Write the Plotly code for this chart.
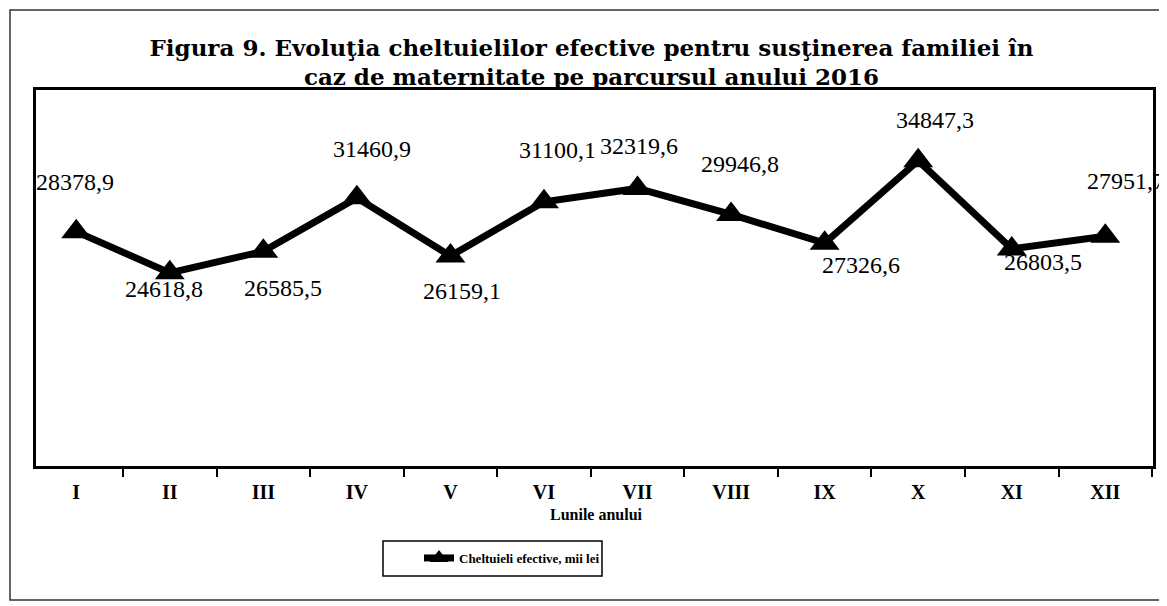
import plotly.graph_objects as go

months = ["I", "II", "III", "IV", "V", "VI", "VII", "VIII", "IX", "X", "XI", "XII"]
values = [28378.9, 24618.8, 26585.5, 31460.9, 26159.1, 31100.1, 32319.6, 29946.8, 27326.6, 34847.3, 26803.5, 27951.7]
value_labels = ["28378,9", "24618,8", "26585,5", "31460,9", "26159,1", "31100,1",
                "32319,6", "29946,8", "27326,6", "34847,3", "26803,5", "27951,7"]
# label offsets (pixels) relative to each point (dy > 0 means below)
label_dx = [-1, -6, 20, 15, 12, 14, 1, 9, 36, 17, 31, 21]
label_dy = [-50, 16, 37, -49, 35, -52, -42, -50, 22, -41, 13, -55]

title_text = ("<b>Figura 9. Evoluţia cheltuielilor efective pentru susţinerea familiei în<br>"
              "caz de maternitate pe parcursul anului 2016</b>")
series_name = "<b>Cheltuieli efective, mii lei</b>"
x_title = "Lunile anului"

W, H = 1167, 606
L, R, T, B = 28, 1145, 82, 458

fig = go.Figure()
fig.add_trace(go.Scatter(
    x=months, y=values, mode="lines+markers", name=series_name,
    line=dict(color="black", width=7),
    marker=dict(symbol="triangle-up", size=26, color="black"),
    showlegend=True,
))

for m, v, t, dx, dy in zip(months, values, value_labels, label_dx, label_dy):
    fig.add_annotation(x=m, y=v, text=t, showarrow=False, xshift=dx, yshift=-dy,
                       font=dict(family="Liberation Serif", size=24, color="black"))

def px_x(p):
    return (p - L) / (R - L)

def px_y(p):
    return (B - p) / (B - T)

# outer frame
fig.add_shape(type="rect", xref="paper", yref="paper",
              x0=px_x(2), x1=px_x(1155), y0=px_y(592), y1=px_y(2),
              line=dict(color="#333333", width=1.5))
# legend box
fig.add_shape(type="rect", xref="paper", yref="paper",
              x0=px_x(375), x1=px_x(594), y0=px_y(568), y1=px_y(533),
              line=dict(color="black", width=1.5))

fig.add_annotation(xref="paper", yref="paper", x=px_x(588), y=px_y(517),
                   text="<b>" + x_title + "</b>", showarrow=False,
                   font=dict(family="Liberation Serif", size=16, color="black"))

fig.update_layout(
    width=W, height=H,
    margin=dict(l=L, r=W - R, t=T, b=H - B, pad=0),
    paper_bgcolor="white", plot_bgcolor="white",
    title=dict(text=title_text, x=0.5, xanchor="center", y=1 - 47.5 / H, yanchor="middle",
               font=dict(family="DejaVu Serif", size=23, color="black")),
    showlegend=True,
    legend=dict(x=px_x(411), xanchor="left", y=px_y(550), yanchor="middle",
                bgcolor="rgba(0,0,0,0)", borderwidth=0,
                font=dict(family="Liberation Serif", size=13, color="black")),
    xaxis=dict(type="category", range=[-0.43, 11.51], showline=True, linecolor="black",
               linewidth=2.5, mirror=True,
               ticks="outside", tickson="boundaries", ticklen=8, tickcolor="black", tickwidth=1.5,
               showgrid=False, zeroline=False, ticklabelstandoff=6,
               tickfont=dict(family="Liberation Serif", size=20, color="black", weight="bold")),
    yaxis=dict(range=[7000, 41300], showline=True, linecolor="black", linewidth=2.5, mirror=True,
               showticklabels=False, ticks="", showgrid=False, zeroline=False),
)

fig.write_html("out.html")
